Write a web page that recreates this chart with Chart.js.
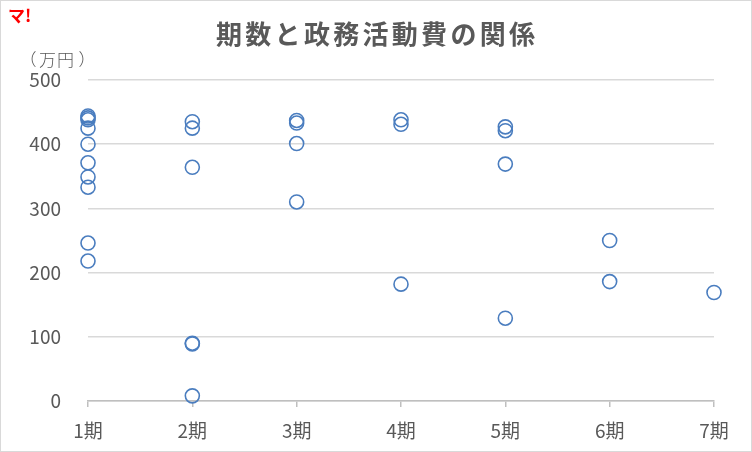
<!DOCTYPE html>
<html><head><meta charset="utf-8">
<script src="https://cdn.jsdelivr.net/npm/chart.js@4"></script>
<style>html,body{margin:0;padding:0;background:#fff}#wrap{width:752px;height:452px;position:relative}</style>
</head><body><div id="wrap"><canvas id="c" width="752" height="452"></canvas></div>
<script>
const titleText = '期数と政務活動費の関係';
const unitLabel = '（万円）';
const periods = [1,1,1,1,1,1,1,1,1,1, 2,2,2,2,2,2, 3,3,3,3, 4,4,4, 5,5,5,5, 6,6, 7];
const expenses = [444,441,438,425,400,371,349,333,246,218, 435,425,364,90,89,8, 437,433,401,310, 438,431,182, 427,421,369,129, 250,186, 169];
const xTicks = [1,2,3,4,5,6,7];
const yTicks = [0,100,200,300,400,500];

const FONT = '"Noto Sans CJK JP", "Noto Sans", sans-serif';
const pts = periods.map((p,i)=>({x:p,y:expenses[i]}));

const deco = {
  id:'deco',
  afterDraw(chart){
    const ctx = chart.ctx;
    ctx.save();
    ctx.strokeStyle = '#d9d9d9'; ctx.lineWidth = 1;
    ctx.strokeRect(0.5,0.5,751,451);
    ctx.fillStyle = '#595959';
    ctx.font = 'bold 26px ' + FONT;
    ctx.textAlign = 'center'; ctx.textBaseline = 'middle';
    const chars = Array.from(titleText);
    const left = 217, right = 534;
    const pitch = (right - left - 24) / (chars.length - 1);
    chars.forEach((ch,i)=>ctx.fillText(ch, left + 12 + i*pitch, 34));
    ctx.font = '300 17px ' + FONT;
    const ux = [28, 47.5, 65.5, 87];
    Array.from(unitLabel).forEach((ch,i)=>ctx.fillText(ch, ux[i], 60));
    ctx.fillStyle = '#ff0000';
    ctx.textAlign = 'left';
    ctx.font = 'bold 17px ' + FONT;
    ctx.fillText('マ!', 8, 16);
    ctx.restore();
  }
};

new Chart(document.getElementById('c'), {
  type:'scatter',
  data:{datasets:[{data:pts, clip:false, pointRadius:7, pointHoverRadius:7, pointBorderWidth:1.6,
    borderColor:'#4a7dbf', backgroundColor:'rgba(0,0,0,0)', pointBackgroundColor:'rgba(0,0,0,0)'}]},
  options:{
    responsive:false, animation:false, devicePixelRatio:1,
    layout:{padding:{top:80,right:38,left:0,bottom:0}},
    plugins:{legend:{display:false}, tooltip:{enabled:false}},
    scales:{
      x:{type:'linear', min:1, max:7,
        afterBuildTicks(s){ s.ticks = xTicks.map(v=>({value:v})); },
        afterFit(s){ s.height = 51; },
        grid:{display:true, drawOnChartArea:false, drawTicks:true, tickLength:6, color:'#bfbfbf', lineWidth:1.5},
        border:{display:true, color:'#bfbfbf', width:1.5},
        ticks:{color:'#595959', font:{family:FONT, size:19}, padding:12, callback:v=>v+'期', maxRotation:0}
      },
      y:{min:0, max:500,
        afterBuildTicks(s){ s.ticks = yTicks.map(v=>({value:v})); },
        afterFit(s){ s.width = 88; },
        grid:{color:'#d9d9d9', lineWidth:1.5, drawTicks:false},
        border:{display:false},
        ticks:{color:'#595959', font:{family:FONT, size:19}, padding:27}
      }
    }
  },
  plugins:[deco]
});
</script></body></html>
